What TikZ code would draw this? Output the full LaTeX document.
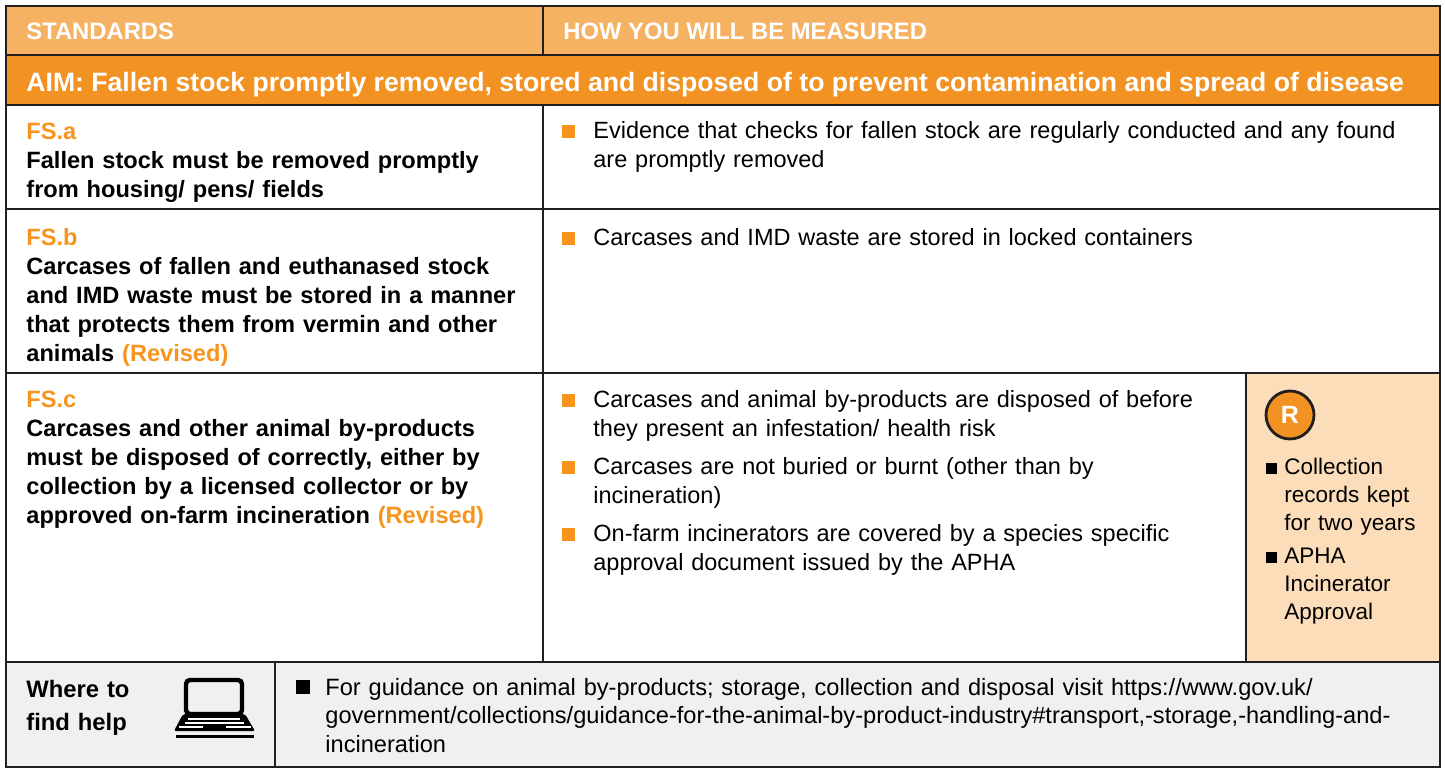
\documentclass[tikz,border=0pt]{standalone}
\usepackage{fontspec}
\setmainfont{Liberation Sans}
\usetikzlibrary{positioning,calc}
\definecolor{hdrpeach}{RGB}{246,178,99}
\definecolor{aimorange}{RGB}{242,146,34}
\definecolor{fsorange}{RGB}{247,148,30}
\definecolor{rpeach}{RGB}{252,221,186}
\definecolor{helpgrey}{RGB}{240,240,240}
\definecolor{ruleblack}{RGB}{35,31,32}
\newcommand{\revised}{\textcolor{fsorange}{(Revised)}}

\begin{document}
\begin{tikzpicture}[x=0.5pt,y=-0.5pt,
  rule/.style={ruleblack, line width=1.25pt},
  celltext/.style={anchor=base west, inner sep=0pt, align=left, font=\fontsize{11.75}{14.5}\selectfont},
  hdrtext/.style={anchor=base west, inner sep=0pt, text=white, font=\fontsize{11.9}{14}\selectfont\bfseries},
  stdtext/.style={celltext, font=\fontsize{11.8}{14.5}\selectfont\bfseries, text width=255pt},
  measuretext/.style={celltext, text width=420pt},
  rtext/.style={celltext, font=\fontsize{11.25}{13.8}\selectfont, text width=75pt},
  obullet/.style={fill=fsorange, minimum size=6.5pt, inner sep=0pt},
  kbullet/.style={fill=black, minimum size=5.5pt, inner sep=0pt},
  rbadge/.style={circle, draw=ruleblack, line width=1.4pt, fill=aimorange, minimum size=24pt, inner sep=0pt, text=white, font=\fontsize{12.5}{12.5}\selectfont\bfseries}
]
\useasboundingbox (0,0) rectangle (1445,769);

% cell fills
\fill[hdrpeach] (6,6) rectangle (1440,55);
\fill[aimorange] (6,55) rectangle (1440,105);
\fill[rpeach] (1246,373) rectangle (1440,662);
\fill[helpgrey] (6,662) rectangle (1440,767);

% grid lines
\draw[rule] (6,6) rectangle (1440,767);
\foreach \y in {55,105,209,373,662}
  \draw[rule] (6,\y) -- (1440,\y);
\draw[rule] (543,6) -- (543,55);
\draw[rule] (543,105) -- (543,662);
\draw[rule] (1246,373) -- (1246,662);
\draw[rule] (275,662) -- (275,767);

% headings
\node[hdrtext] (stdhdr) at (26,40) {STANDARDS};
\node[hdrtext] (measurehdr) at (563,40) {HOW YOU WILL BE MEASURED};
\node[hdrtext, font=\fontsize{13.3}{16}\selectfont\bfseries] (aim) at (26,92)
  {AIM: Fallen stock promptly removed, stored and disposed of to prevent contamination and spread of disease};

% FS.a
\node[stdtext] (fsa) at (26,140) {\textcolor{fsorange}{FS.a}\\Fallen stock must be removed promptly\\from housing/ pens/ fields};
\node[measuretext] (fsam) at (593,139) {Evidence that checks for fallen stock are regularly conducted and any found\\are promptly removed};
\node[obullet] (fsab) at ($(fsam.base west)+(-24.5,-7.5)$) {};

% FS.b
\node[stdtext] (fsb) at (26,246) {\textcolor{fsorange}{FS.b}\\Carcases of fallen and euthanased stock\\and IMD waste must be stored in a manner\\that protects them from vermin and other\\animals \revised};
\node[measuretext] (fsbm) at (593,246) {Carcases and IMD waste are stored in locked containers};
\node[obullet] (fsbb) at ($(fsbm.base west)+(-24.5,-7.5)$) {};

% FS.c
\node[stdtext] (fsc) at (26,408) {\textcolor{fsorange}{FS.c}\\Carcases and other animal by-products\\must be disposed of correctly, either by\\collection by a licensed collector or by\\approved on-farm incineration \revised};
\node[measuretext] (fscm1) at (593,408) {Carcases and animal by-products are disposed of before\\they present an infestation/ health risk};
\node[measuretext] (fscm2) at (593,475) {Carcases are not buried or burnt (other than by\\incineration)};
\node[measuretext] (fscm3) at (593,542) {On-farm incinerators are covered by a species specific\\approval document issued by the APHA};
\foreach \m in {fscm1,fscm2,fscm3}
  \node[obullet] (\m b) at ($(\m.base west)+(-24.5,-7.5)$) {};

% recording column
\node[rbadge] (rmark) at (1290,415) {R};
\node[rtext] (rec1) at (1284,475) {Collection\\records kept\\for two years};
\node[rtext] (rec2) at (1284,564) {APHA\\Incinerator\\Approval};
\foreach \r in {rec1,rec2}
  \node[kbullet] (\r b) at ($(\r.base west)+(-12.5,-6.5)$) {};

% where to find help
\node[celltext, font=\fontsize{11.9}{17}\selectfont\bfseries, text width=70pt] (help) at (26,697) {Where to\\find help};
\draw[line width=2.2pt, rounded corners=2pt] (186,680) rectangle (242,714);
\fill[rounded corners=1pt] (183,714) -- (245,714) -- (255,731) -- (174,731) -- cycle;
\draw[white, line width=0.9pt] (188,719) -- (240,719) (185,723) -- (244,723)
  (179,727) -- (203,727) (226,727) -- (251,727);
\draw[line width=1.6pt] (176,736.5) -- (254,736.5);
\node[celltext, font=\fontsize{11.8}{14.3}\selectfont, text width=560pt] (helptext) at (325,695)
  {For guidance on animal by-products; storage, collection and disposal visit https://www.gov.uk/\\government/collections/guidance-for-the-animal-by-product-industry\#transport,-storage,-handling-and-\\incineration};
\node[kbullet, minimum size=7pt] (helpb) at ($(helptext.base west)+(-22,-8)$) {};
\end{tikzpicture}
\end{document}
